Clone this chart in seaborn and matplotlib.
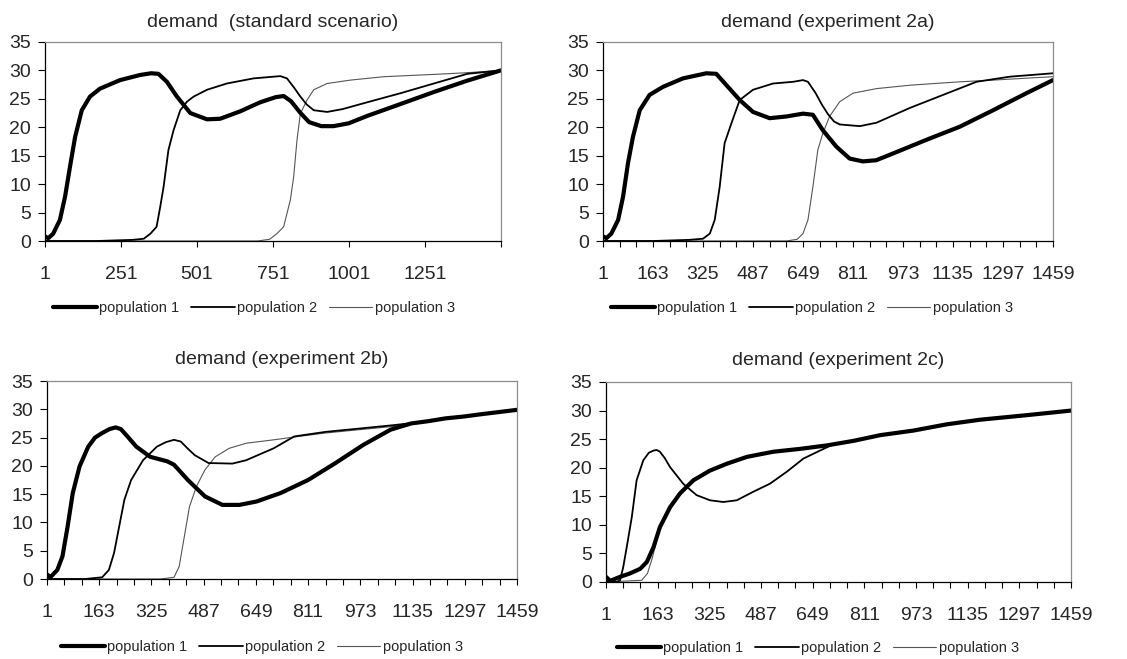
import numpy as np
import pandas as pd
import matplotlib
matplotlib.use("Agg")
import matplotlib.pyplot as plt
import seaborn as sns

sns.set_style("white")
plt.rcParams['font.family'] = ['Liberation Sans', 'DejaVu Sans']

# ---------------------------------------------------------------
# values (day, demand)
# standard scenario
std_p1_x = [1, 12, 28, 50, 67, 83, 100, 122, 149, 182, 248, 314, 350, 374, 402, 435, 479, 534, 577, 643, 709, 760, 786, 810, 840, 870, 910, 950, 1000, 1061, 1171, 1280, 1390, 1500]
std_p1_y = [0.8, 0.5, 1.3, 3.7, 7.8, 13.0, 18.3, 23.0, 25.4, 26.8, 28.3, 29.2, 29.5, 29.4, 28.0, 25.4, 22.5, 21.4, 21.5, 22.8, 24.4, 25.3, 25.5, 24.6, 22.6, 20.9, 20.2, 20.2, 20.7, 22.0, 24.1, 26.2, 28.2, 30.0]
std_p2_x = [1, 170, 290, 326, 348, 368, 380, 391, 407, 424, 446, 468, 490, 534, 599, 687, 775, 797, 820, 841, 862, 885, 929, 980, 1061, 1171, 1280, 1390, 1500]
std_p2_y = [0.0, 0.0, 0.2, 0.4, 1.3, 2.5, 6.0, 9.5, 16.0, 19.5, 23.0, 24.5, 25.4, 26.6, 27.7, 28.6, 29.0, 28.6, 27.0, 25.4, 24.0, 23.0, 22.7, 23.2, 24.4, 26.0, 27.7, 29.4, 30.0]
std_p3_x = [1, 700, 740, 764, 786, 808, 819, 830, 841, 863, 885, 929, 1006, 1116, 1280, 1390, 1500]
std_p3_y = [0.0, 0.0, 0.3, 1.3, 2.5, 7.2, 11.3, 17.8, 22.4, 24.8, 26.6, 27.7, 28.3, 28.9, 29.3, 29.6, 30.0]

# experiment 2a
e2a_p1_x = [1, 12, 28, 50, 66, 82, 98, 120, 152, 195, 260, 336, 368, 401, 444, 487, 541, 595, 649, 681, 713, 757, 800, 843, 886, 941, 1049, 1157, 1265, 1373, 1459]
e2a_p1_y = [0.8, 0.5, 1.3, 3.7, 7.8, 13.7, 18.3, 23.0, 25.7, 27.1, 28.6, 29.5, 29.4, 27.4, 24.8, 22.7, 21.6, 21.9, 22.4, 22.2, 19.5, 16.6, 14.5, 14.0, 14.2, 15.4, 17.8, 20.1, 23.0, 26.0, 28.3]
e2a_p2_x = [1, 163, 280, 325, 347, 363, 379, 395, 417, 444, 487, 552, 617, 649, 665, 690, 710, 730, 750, 768, 833, 887, 995, 1103, 1211, 1319, 1459]
e2a_p2_y = [0.0, 0.0, 0.2, 0.4, 1.3, 3.7, 9.5, 17.2, 20.7, 24.8, 26.6, 27.7, 28.0, 28.3, 28.0, 26.0, 24.0, 22.3, 21.0, 20.5, 20.2, 20.8, 23.4, 25.7, 28.0, 28.9, 29.5]
e2a_p3_x = [1, 595, 630, 649, 665, 681, 697, 713, 735, 768, 811, 887, 995, 1157, 1265, 1459]
e2a_p3_y = [0.0, 0.0, 0.3, 1.3, 3.7, 9.5, 16.0, 18.9, 21.9, 24.5, 26.0, 26.8, 27.4, 28.0, 28.3, 28.9]

# experiment 2b
e2b_p1_x = [1, 12, 33, 49, 65, 81, 102, 129, 150, 172, 195, 214, 230, 246, 278, 321, 374, 395, 438, 491, 545, 598, 651, 726, 811, 896, 982, 1067, 1131, 1184, 1238, 1291, 1344, 1459]
e2b_p1_y = [0.8, 0.35, 1.6, 4.0, 9.3, 15.2, 19.9, 23.4, 25.0, 25.8, 26.5, 26.8, 26.5, 25.5, 23.4, 21.6, 20.8, 20.2, 17.5, 14.6, 13.1, 13.1, 13.7, 15.2, 17.5, 20.5, 23.7, 26.4, 27.5, 27.9, 28.4, 28.7, 29.1, 29.9]
e2b_p2_x = [1, 118, 172, 193, 209, 225, 241, 262, 299, 342, 370, 395, 416, 435, 459, 502, 576, 619, 704, 768, 864, 971, 1077, 1184, 1291, 1459]
e2b_p2_y = [0.0, 0.0, 0.3, 1.6, 4.6, 9.3, 14.0, 17.5, 21.0, 23.4, 24.2, 24.6, 24.3, 23.2, 21.9, 20.5, 20.4, 21.0, 23.1, 25.2, 26.0, 26.6, 27.2, 27.9, 28.7, 29.9]
e2b_p3_x = [1, 352, 395, 411, 427, 443, 465, 491, 523, 566, 619, 704, 768, 864, 971, 1099, 1184, 1291, 1459]
e2b_p3_y = [0.0, 0.0, 0.3, 2.2, 7.5, 12.8, 16.4, 19.3, 21.6, 23.1, 24.0, 24.6, 25.1, 25.8, 26.4, 27.1, 27.9, 28.7, 29.9]

# experiment 2c
e2c_p1_x = [1, 14, 45, 76, 108, 129, 150, 170, 202, 233, 275, 327, 380, 443, 526, 610, 693, 777, 861, 965, 1070, 1174, 1321, 1459]
e2c_p1_y = [0.9, 0.2, 0.9, 1.5, 2.3, 3.5, 6.1, 9.6, 13.1, 15.5, 17.8, 19.5, 20.7, 21.9, 22.8, 23.3, 23.9, 24.7, 25.7, 26.5, 27.6, 28.4, 29.2, 30.0]
e2c_p2_x = [1, 34, 45, 55, 66, 82, 97, 118, 135, 150, 160, 170, 185, 202, 243, 285, 327, 369, 411, 463, 515, 568, 620, 672, 714, 777, 861, 965, 1070, 1174, 1321, 1459]
e2c_p2_y = [0.0, 0.0, 0.3, 2.6, 6.1, 11.4, 17.8, 21.3, 22.6, 23.0, 23.1, 22.8, 21.7, 20.1, 17.2, 15.2, 14.3, 14.0, 14.3, 15.8, 17.2, 19.3, 21.6, 23.0, 24.1, 24.7, 25.7, 26.5, 27.6, 28.4, 29.2, 30.0]
e2c_p3_x = [1, 113, 131, 144, 155, 170, 202, 233, 275, 327, 380, 443, 526, 610, 693, 777, 861, 965, 1070, 1174, 1321, 1459]
e2c_p3_y = [0.0, 0.3, 1.5, 3.8, 6.1, 9.6, 13.1, 15.5, 17.8, 19.5, 20.7, 21.9, 22.8, 23.3, 23.9, 24.7, 25.7, 26.5, 27.6, 28.4, 29.2, 30.0]

titles = ["demand  (standard scenario)", "demand (experiment 2a)",
          "demand (experiment 2b)", "demand (experiment 2c)"]
series_names = ["population 1", "population 2", "population 3"]

panels = [
    [(std_p1_x, std_p1_y), (std_p2_x, std_p2_y), (std_p3_x, std_p3_y)],
    [(e2a_p1_x, e2a_p1_y), (e2a_p2_x, e2a_p2_y), (e2a_p3_x, e2a_p3_y)],
    [(e2b_p1_x, e2b_p1_y), (e2b_p2_x, e2b_p2_y), (e2b_p3_x, e2b_p3_y)],
    [(e2c_p1_x, e2c_p1_y), (e2c_p2_x, e2c_p2_y), (e2c_p3_x, e2c_p3_y)],
]

# ---------------------------------------------------------------
W, H = 1127, 659
fig = plt.figure(figsize=(W / 100, H / 100), dpi=100)

# axes boxes in pixels: left, top, right, bottom
boxes = [(45, 42, 501, 241), (603, 42, 1053, 241),
         (47, 381, 517, 579), (606, 382, 1071, 582)]
legend_pos = [(254, 308), (812, 308), (262, 647), (818, 648)]
title_pad = [10.5, 10.5, 12.5, 12.5]

styles = [dict(color="black", linewidth=3.0),
          dict(color="black", linewidth=1.3),
          dict(color="#555555", linewidth=0.8)]

for i, (box, series) in enumerate(zip(boxes, panels)):
    l, t, r, b = box
    ax = fig.add_axes([l / W, 1 - b / H, (r - l) / W, (b - t) / H])
    # draw thin lines first so the thick one sits on top
    for j in [2, 1, 0]:
        x, y = series[j]
        df = pd.DataFrame({"day": x, "demand": y})
        sns.lineplot(data=df, x="day", y="demand", ax=ax, label=series_names[j],
                     errorbar=None, sort=True, **styles[j])

    ax.set_ylim(0, 35)
    ax.set_yticks(range(0, 36, 5))
    if i == 0:
        ax.set_xlim(1, 1501)
        ax.set_xticks(range(1, 1502, 250))
        ax.set_xticklabels([str(v) for v in range(1, 1252, 250)] + [""])
    else:
        ax.set_xlim(1, 1459)
        ax.set_xticks(range(1, 1460, 162))
        ax.set_xticks(range(1, 1460, 54), minor=True)
    ax.set_xlabel("")
    ax.set_ylabel("")
    ax.set_title(titles[i], fontsize=14, pad=title_pad[i])

    ax.tick_params(axis="both", which="both", direction="out", color="black",
                   labelsize=14)
    ax.tick_params(axis="y", length=5, width=0.8, pad=5, left=True)
    ax.tick_params(axis="x", which="both", length=4, width=0.8, pad=14, bottom=True)
    ax.tick_params(axis="x", which="minor", labelbottom=False)

    for side in ["left", "bottom"]:
        ax.spines[side].set_color("black")
        ax.spines[side].set_linewidth(0.9)
    for side in ["top", "right"]:
        ax.spines[side].set_color("#8c8c8c")
        ax.spines[side].set_linewidth(0.9)

    handles, labels = ax.get_legend_handles_labels()
    order = [labels.index(n) for n in series_names]
    lx, ly = legend_pos[i]
    ax.legend([handles[k] for k in order], [labels[k] for k in order],
              loc="center", bbox_to_anchor=(lx / W, 1 - ly / H),
              bbox_transform=fig.transFigure, ncol=3, frameon=False,
              fontsize=10.5, handlelength=3.0, handletextpad=0.15,
              columnspacing=0.8, borderpad=0)

fig.savefig("out.png", dpi=100)
plt.close()
